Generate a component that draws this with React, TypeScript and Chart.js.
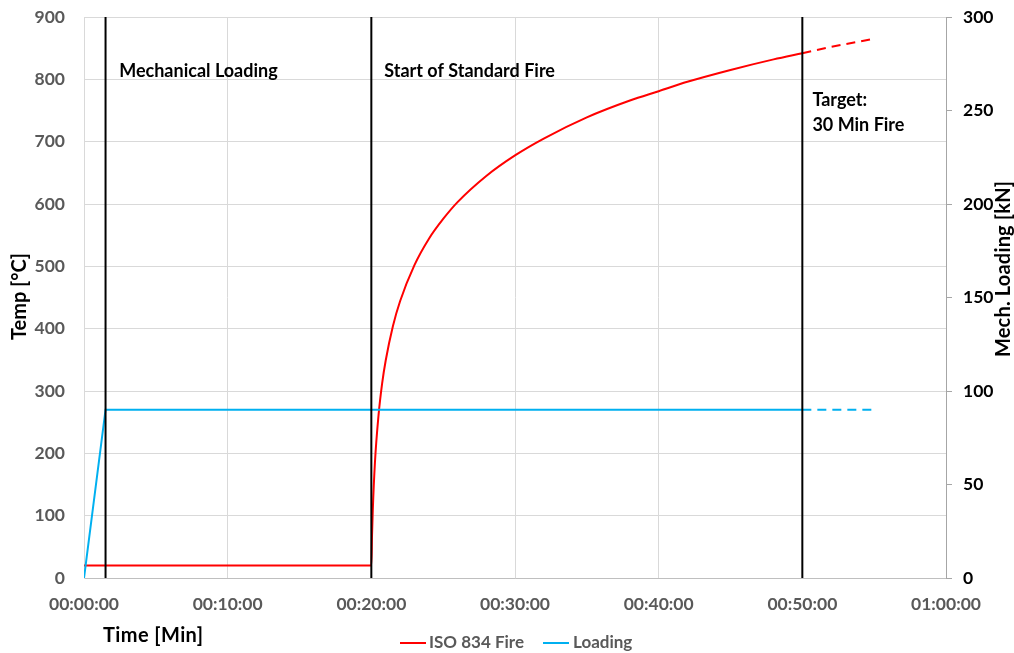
import React, { useEffect, useRef } from "react";
import { Chart, registerables } from "chart.js";

Chart.register(...registerables);

// Time in minutes since test start
const fireMinutes = [0, 20, 20.05, 20.1, 20.25, 20.5, 20.75, 21, 21.5, 22, 23, 24, 25, 26, 28, 30, 32, 35, 38, 40, 42, 45, 48, 50, 52, 55];
const fireTemps = [20, 20, 70, 108, 185, 261, 312, 349, 404, 444, 502, 544, 576, 603, 645, 678, 705, 739, 766, 781, 796, 815, 832, 842, 852, 865];

const loadMinutes = [0, 1.5, 50, 55];
const loadKN = [0, 90, 90, 90];

const markerMinutes = [1.5, 20, 50];

const xTickMinutes = [0, 10, 20, 30, 40, 50, 60];
const annotationTexts = ["Mechanical Loading", "Start of Standard Fire", "Target:", "30 Min Fire"];

const FONT = "Lato, 'Open Sans', sans-serif";
const RED = "#ff0000";
const BLUE = "#00b0f0";
const GRAY_TXT = "#595959";
const DASH_FROM = 50;

function fmtTime(m: number): string {
  const h = Math.floor(m / 60);
  const mm = m % 60;
  const p = (n: number) => String(n).padStart(2, "0");
  return `${p(h)}:${p(mm)}:00`;
}

function fitText(ctx: any, text: string, x: number, y: number, width: number) {
  ctx.letterSpacing = "0px";
  const w = ctx.measureText(text).width;
  const extra = (width - w) / Math.max(1, text.length - 1);
  ctx.letterSpacing = `${extra}px`;
  ctx.textAlign = "left";
  ctx.fillText(text, x, y);
  ctx.letterSpacing = "0px";
}

const overlayPlugin = {
  id: "overlay",
  afterDraw(chart: any) {
    const { ctx, scales } = chart;
    const x = scales.x;
    const y = scales.y;
    ctx.save();
    // annotations
    ctx.fillStyle = "#000";
    ctx.font = `bold 18px ${FONT}`;
    ctx.textBaseline = "middle";
    ctx.textAlign = "left";
    const ann: [number, number, number][] = [
      [0, 2.45, 813],
      [1, 20.9, 813],
      [2, 50.7, 766],
      [3, 50.7, 727],
    ];
    ann.forEach(([i, mx, vy]) => {
      ctx.fillText(annotationTexts[i], x.getPixelForValue(mx), y.getPixelForValue(vy));
    });

    // axis titles
    ctx.font = `bold 20px ${FONT}`;
    ctx.fillStyle = "#000";
    ctx.save();
    ctx.translate(20, 340);
    ctx.rotate(-Math.PI / 2);
    fitText(ctx, "Temp [°C]", 0, 0, 87);
    ctx.restore();
    ctx.save();
    ctx.translate(1004, 357);
    ctx.rotate(-Math.PI / 2);
    fitText(ctx, "Mech. Loading [kN]", 0, 0, 176);
    ctx.restore();
    fitText(ctx, "Time [Min]", 103, 636, 100);

    // legend
    ctx.font = `bold 17px ${FONT}`;
    ctx.fillStyle = GRAY_TXT;
    ctx.textAlign = "left";
    const ly = 643;
    ctx.lineWidth = 2;
    ctx.strokeStyle = RED;
    ctx.beginPath();
    ctx.moveTo(400, ly);
    ctx.lineTo(426, ly);
    ctx.stroke();
    ctx.fillText("ISO 834 Fire", 429, ly);
    ctx.strokeStyle = BLUE;
    ctx.beginPath();
    ctx.moveTo(543, ly);
    ctx.lineTo(569, ly);
    ctx.stroke();
    ctx.fillText("Loading", 573, ly);
    ctx.restore();
  },
};

export default function App() {
  const ref = useRef<HTMLCanvasElement | null>(null);
  useEffect(() => {
    if (!ref.current) return;
    const dashSeg = {
      borderDash: (c: any) => (c.p0.parsed.x >= DASH_FROM ? [9, 6] : undefined),
    };
    const markerSets = markerMinutes.map((m) => ({
      label: "marker",
      data: [
        { x: m, y: 0 },
        { x: m, y: 900 },
      ],
      borderColor: "#000",
      borderWidth: 2,
      pointRadius: 0,
      yAxisID: "y",
      order: 0,
    }));
    const tickFont = { family: FONT, size: 17.5, weight: "bold" };
    const chart = new Chart(ref.current, {
      type: "line",
      data: {
        datasets: [
          {
            label: "ISO 834 Fire",
            data: fireMinutes.map((m, i) => ({ x: m, y: fireTemps[i] })),
            borderColor: RED,
            borderWidth: 2,
            pointRadius: 0,
            cubicInterpolationMode: "monotone",
            yAxisID: "y",
            segment: dashSeg,
            order: 2,
          },
          {
            label: "Loading",
            data: loadMinutes.map((m, i) => ({ x: m, y: loadKN[i] })),
            borderColor: BLUE,
            borderWidth: 2,
            pointRadius: 0,
            yAxisID: "y2",
            segment: dashSeg,
            order: 1,
          },
          ...markerSets,
        ] as any,
      },
      options: {
        animation: false,
        responsive: false,
        layout: { padding: { top: 17, left: 0, right: 0, bottom: 0 } },
        plugins: {
          legend: { display: false },
          tooltip: { enabled: false },
        },
        scales: {
          x: {
            type: "linear",
            min: 0,
            max: 60,
            afterBuildTicks: (s: any) => {
              s.ticks = xTickMinutes.map((v) => ({ value: v }));
            },
            afterFit: (s: any) => {
              s.height = 75;
              s.paddingLeft = 0;
              s.paddingRight = 0;
            },
            ticks: {
              callback: (v: any) => fmtTime(Number(v)),
              font: tickFont,
              color: GRAY_TXT,
              padding: 16,
              maxRotation: 0,
            },
            grid: { color: "#d9d9d9", drawTicks: false, lineWidth: 1 },
            border: { color: "#bfbfbf", width: 1 },
          },
          y: {
            position: "left",
            min: 0,
            max: 900,
            ticks: {
              stepSize: 100,
              font: tickFont,
              color: GRAY_TXT,
              padding: 19,
            },
            afterFit: (s: any) => {
              s.width = 84;
              s.paddingTop = 0;
              s.paddingBottom = 0;
            },
            grid: { color: "#d9d9d9", drawTicks: false },
            border: { color: "#d9d9d9" },
          },
          y2: {
            position: "right",
            min: 0,
            max: 300,
            ticks: {
              stepSize: 50,
              font: tickFont,
              color: "#000",
              padding: 11,
            },
            afterFit: (s: any) => {
              s.width = 68;
              s.paddingTop = 0;
              s.paddingBottom = 0;
            },
            grid: { drawOnChartArea: false, drawTicks: true, tickLength: 6, color: "#a6a6a6" },
            border: { color: "#a6a6a6" },
          },
        },
      } as any,
      plugins: [overlayPlugin],
    });
    return () => chart.destroy();
  }, []);
  return (
    <div style={{ position: "absolute", left: 0, top: 0, width: 1014, height: 653, background: "#fff" }}>
      <canvas ref={ref} width={1014} height={653} style={{ display: "block" }} />
    </div>
  );
}
